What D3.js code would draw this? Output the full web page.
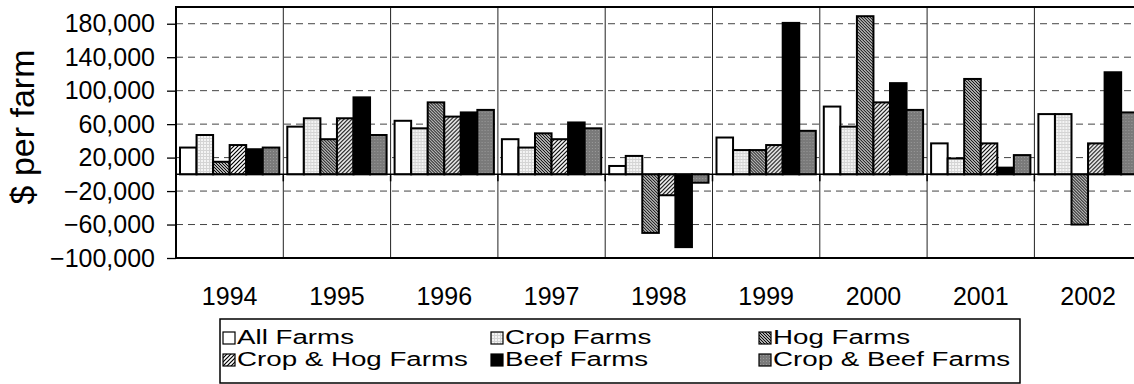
<!DOCTYPE html>
<html>
<head>
<meta charset="utf-8">
<script src="https://cdn.jsdelivr.net/npm/d3@7"></script>
<style>
  html, body { margin: 0; padding: 0; background: #fff; }
  svg { display: block; font-family: "Liberation Sans", Arial, sans-serif; }
</style>
</head>
<body>
<svg id="chart" width="1134" height="384"></svg>
<script>
// Net farm income per farm, by farm type, 1994-2002
const years = ["1994", "1995", "1996", "1997", "1998", "1999", "2000", "2001", "2002"];
const seriesNames = ["All Farms", "Crop Farms", "Hog Farms", "Crop & Hog Farms", "Beef Farms", "Crop & Beef Farms"];
const allFarms      = [32000, 57000, 64000, 42000, 10000, 44000, 81000, 37000, 72000];
const cropFarms     = [47000, 67000, 55000, 32000, 22000, 29000, 57000, 19000, 72000];
const hogFarms      = [15000, 42000, 86000, 49000, -70000, 29000, 189000, 114000, -60000];
const cropHogFarms  = [35000, 67000, 69000, 42000, -25000, 35000, 86000, 37000, 37000];
const beefFarms     = [30000, 92000, 74000, 62000, -87000, 181000, 109000, 8000, 122000];
const cropBeefFarms = [32000, 47000, 77000, 55000, -10000, 52000, 77000, 23000, 74000];
const yTicks = [-100000, -60000, -20000, 20000, 60000, 100000, 140000, 180000];
const yLabel = "$ per farm";

const seriesValues = [allFarms, cropFarms, hogFarms, cropHogFarms, beefFarms, cropBeefFarms];
const fills = ["#ffffff", "url(#pCrop)", "url(#pHog)", "url(#pCropHog)", "#000000", "url(#pCropBeef)"];

const svg = d3.select("#chart");

// fill patterns
const defs = svg.append("defs");
const pCrop = defs.append("pattern").attr("id", "pCrop").attr("width", 3).attr("height", 3)
  .attr("patternUnits", "userSpaceOnUse");
pCrop.append("rect").attr("width", 3).attr("height", 3).attr("fill", "#f4f4f4");
pCrop.append("rect").attr("width", 3).attr("height", 1).attr("fill", "#d4d4d4");
pCrop.append("rect").attr("width", 1).attr("height", 3).attr("fill", "#d4d4d4");

const pHog = defs.append("pattern").attr("id", "pHog").attr("width", 3).attr("height", 3)
  .attr("patternUnits", "userSpaceOnUse");
pHog.append("rect").attr("width", 3).attr("height", 3).attr("fill", "#ffffff");
pHog.append("path").attr("d", "M0,0 L3,3 M-1,2 L1,4 M2,-1 L4,1")
  .attr("stroke", "#000").attr("stroke-width", 1.2);

const pCropHog = defs.append("pattern").attr("id", "pCropHog").attr("width", 4).attr("height", 4)
  .attr("patternUnits", "userSpaceOnUse");
pCropHog.append("rect").attr("width", 4).attr("height", 4).attr("fill", "#ffffff");
pCropHog.append("path").attr("d", "M0,4 L4,0 M-1,1 L1,-1 M3,5 L5,3")
  .attr("stroke", "#000").attr("stroke-width", 1.2);

const pCropBeef = defs.append("pattern").attr("id", "pCropBeef").attr("width", 3).attr("height", 3)
  .attr("patternUnits", "userSpaceOnUse");
pCropBeef.append("rect").attr("width", 3).attr("height", 3).attr("fill", "#7a7a7a");
pCropBeef.append("rect").attr("x", 1).attr("y", 1).attr("width", 1).attr("height", 1).attr("fill", "#9a9a9a");

// scales
const plotLeft = 176, plotRight = 1141.7, plotTop = 7, plotBottom = 258;
const x0 = d3.scaleBand().domain(years).range([plotLeft, plotRight]).paddingInner(0).paddingOuter(0);
const x1 = d3.scaleBand().domain(seriesNames).range([4, x0.bandwidth() - 4]).padding(0);
const y = d3.scaleLinear().domain([-100000, 200000]).range([plotBottom, plotTop]);

// dashed horizontal gridlines
svg.append("g")
  .selectAll("line")
  .data(yTicks.filter(d => d > -100000))
  .join("line")
  .attr("x1", plotLeft).attr("x2", plotRight)
  .attr("y1", d => y(d)).attr("y2", d => y(d))
  .attr("stroke", "#444").attr("stroke-width", 1)
  .attr("stroke-dasharray", "7,5");

// category separators
svg.append("g")
  .selectAll("line")
  .data(years.slice(1))
  .join("line")
  .attr("x1", d => x0(d)).attr("x2", d => x0(d))
  .attr("y1", plotTop).attr("y2", plotBottom)
  .attr("stroke", "#222").attr("stroke-width", 1);

// bars
const groups = svg.append("g")
  .selectAll("g")
  .data(years)
  .join("g")
  .attr("transform", d => `translate(${x0(d)},0)`);

groups.selectAll("rect")
  .data((yr, i) => seriesNames.map((s, k) => ({ s, k, v: seriesValues[k][i] })))
  .join("rect")
  .attr("x", d => x1(d.s))
  .attr("width", x1.bandwidth())
  .attr("y", d => y(Math.max(0, d.v)))
  .attr("height", d => Math.abs(y(d.v) - y(0)))
  .attr("fill", d => fills[d.k])
  .attr("stroke", "#000")
  .attr("stroke-width", 2);

// zero line
svg.append("line")
  .attr("x1", plotLeft).attr("x2", plotRight)
  .attr("y1", y(0)).attr("y2", y(0))
  .attr("stroke", "#000").attr("stroke-width", 1.5);

// small category ticks on the zero line
svg.append("g")
  .selectAll("line")
  .data(years.slice(1))
  .join("line")
  .attr("x1", d => x0(d)).attr("x2", d => x0(d))
  .attr("y1", y(0)).attr("y2", y(0) + 7)
  .attr("stroke", "#000").attr("stroke-width", 1.5);

// plot frame
svg.append("path")
  .attr("d", `M${plotRight + 2},${plotTop} H${plotLeft} V${plotBottom} H${plotRight + 2}`)
  .attr("fill", "none").attr("stroke", "#000").attr("stroke-width", 2);

// y axis
const yAxis = d3.axisLeft(y)
  .tickValues(yTicks)
  .tickFormat(d3.format(","))
  .tickSize(9)
  .tickPadding(12);
const gy = svg.append("g").attr("transform", `translate(${plotLeft},0)`).call(yAxis);
gy.select(".domain").remove();
gy.selectAll(".tick line").attr("stroke", "#000").attr("stroke-width", 1.3);
gy.selectAll(".tick text")
  .attr("font-size", 25).attr("fill", "#000")
  .attr("font-family", "Liberation Sans, Arial, sans-serif");

// x labels
svg.append("g")
  .selectAll("text")
  .data(years)
  .join("text")
  .attr("x", d => x0(d) + x0.bandwidth() / 2)
  .attr("y", 305)
  .attr("text-anchor", "middle")
  .attr("font-size", 25)
  .text(d => d);

// y axis title
svg.append("text")
  .attr("transform", "translate(34,127) rotate(-90)")
  .attr("text-anchor", "middle")
  .attr("font-size", 34)
  .text(yLabel);

// legend
const legend = svg.append("g");
legend.append("rect")
  .attr("x", 220).attr("y", 319).attr("width", 800).attr("height", 64)
  .attr("fill", "#fff").attr("stroke", "#000").attr("stroke-width", 1.5);

const colX = [223, 491, 759];
const rowY = [344, 366];
const items = legend.selectAll("g.item")
  .data(seriesNames.map((s, k) => ({ s, k })))
  .join("g")
  .attr("class", "item")
  .attr("transform", d => `translate(${colX[d.k % 3]},${rowY[Math.floor(d.k / 3)]})`);
items.append("rect")
  .attr("x", 0).attr("y", -12).attr("width", 12).attr("height", 12)
  .attr("fill", d => fills[d.k]).attr("stroke", "#000").attr("stroke-width", 1.2);
items.append("text")
  .attr("transform", "translate(14,0) scale(1.32,1)")
  .attr("font-size", 21)
  .text(d => d.s);
</script>
</body>
</html>
